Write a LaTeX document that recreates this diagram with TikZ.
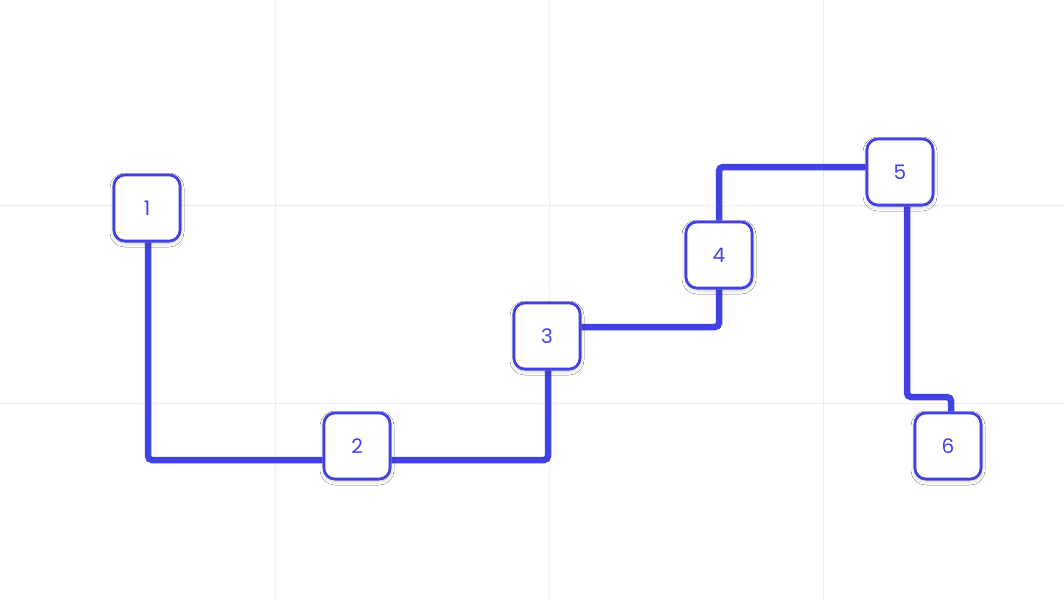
\documentclass[tikz,border=0pt]{standalone}
\usepackage{fontspec}
\setmainfont{Poppins}
\usetikzlibrary{shadows.blur}
\definecolor{acc}{HTML}{4141E4}
\definecolor{gridc}{HTML}{EBEBEE}
\begin{document}
\begin{tikzpicture}[x=1pt,y=-1pt,
  box/.style={draw=acc,line width=2.6pt,fill=white,rounded corners=11pt,minimum width=66pt,minimum height=66pt,inner sep=0pt,text=acc,font=\fontsize{20}{20}\selectfont,
    blur shadow={shadow xshift=0pt,shadow yshift=-2pt,shadow blur radius=4pt,shadow opacity=12}},
  wire/.style={draw=acc,line width=6.5pt,rounded corners=4pt}]
\useasboundingbox (0,0) rectangle (1064,600);
\fill[white] (0,0) rectangle (1064,600);
\foreach \x in {275,549,823} \draw[gridc,line width=1pt] (\x,0) -- (\x,600);
\foreach \y in {205,403} \draw[gridc,line width=1pt] (0,\y) -- (1064,\y);
\coordinate (c1) at (148,460);
\coordinate (c2) at (548,460);
\coordinate (c3) at (719,327);
\coordinate (c4) at (719,167);
\coordinate (c5) at (907,397);
\coordinate (c6) at (951,397);
\node[box] (n1) at (147,208) {1};
\node[box] (n2) at (357,446) {2};
\node[box] (n3) at (547,336) {3};
\node[box] (n4) at (719,255) {4};
\node[box] (n5) at (900,172) {5};
\node[box] (n6) at (948,446) {6};
\begin{scope}[on background layer/.style={}]
\end{scope}
\path[wire] (n1.south -| c1) |- (c1) -- (n2.west |- c1);
\path[wire] (n2.east |- c2) -- (c2) -- (n3.south -| c2);
\path[wire] (n3.east |- c3) -- (c3) -- (n4.south);
\path[wire] (n4.north) -- (c4) -- (n5.west |- c4);
\path[wire] (n5.south -| c5) -- (c5) -- (c6) -- (n6.north -| c6);
\node[box] at (n1) {1};
\node[box] at (n2) {2};
\node[box] at (n3) {3};
\node[box] at (n4) {4};
\node[box] at (n5) {5};
\node[box] at (n6) {6};
\end{tikzpicture}
\end{document}
